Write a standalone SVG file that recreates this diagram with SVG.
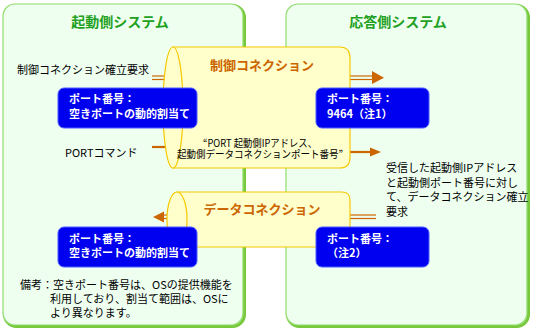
<svg xmlns="http://www.w3.org/2000/svg" width="535" height="331" viewBox="0 0 535 331">
<defs>
<style>
text{font-family:"Noto Sans CJK JP","Noto Sans",sans-serif;}
.panel{fill:#eefff0;stroke:#8fdc6c;stroke-width:1.2;}
.shadow{fill:none;stroke:#77c83a;stroke-width:3;}
.ttl{font-size:14px;font-weight:bold;fill:#22a022;text-anchor:middle;}
.cyl{fill:#ffffcc;stroke:#f5c800;stroke-width:1.2;}
.ctl{font-size:13px;font-weight:bold;fill:#cc6600;text-anchor:middle;}
.box{fill:#0000f0;stroke:#4a5cff;stroke-width:1;}
.bt{font-size:11px;font-weight:bold;fill:#ffffff;}
.lbl{font-size:11px;fill:#000000;}
.ln{stroke:#cc6600;stroke-width:1.2;fill:none;}
.thk{stroke:#cc6600;stroke-width:2.2;fill:none;}
.head{fill:#cc6600;}
</style>
</defs>
<rect width="535" height="331" fill="#ffffff"/>
<g id="initiator">
<rect class="shadow" x="4.5" y="5.5" width="240" height="321" rx="12"/>
<rect class="panel" x="3" y="4" width="240" height="321" rx="12"/>
<text class="ttl" x="120" y="27">起動側システム</text>
</g>
<g id="responder">
<rect class="shadow" x="287.5" y="5.5" width="241" height="321" rx="12"/>
<rect class="panel" x="286" y="4" width="241" height="321" rx="12"/>
<text class="ttl" x="398" y="27">応答側システム</text>
</g>
<g id="connectors">
<line class="ln" x1="152" y1="76" x2="175" y2="76"/>
<line class="ln" x1="152" y1="79.5" x2="175" y2="79.5"/>
<line class="ln" x1="345" y1="76" x2="374" y2="76"/>
<line class="ln" x1="345" y1="79.5" x2="374" y2="79.5"/>
<polygon class="head" points="372,71 384,77.7 372,84"/>
<line class="thk" x1="152" y1="147" x2="175" y2="147"/>
<line class="thk" x1="345" y1="152" x2="372" y2="152"/>
<polygon class="head" points="370,147.5 381,152 370,156.5"/>
<line class="ln" x1="345" y1="215" x2="376" y2="215"/>
<line class="ln" x1="345" y1="218.5" x2="376" y2="218.5"/>
<line class="ln" x1="161" y1="215" x2="183" y2="215"/>
<line class="ln" x1="161" y1="218.5" x2="183" y2="218.5"/>
<polygon class="head" points="164,211.5 153,217 164,222.5"/>
</g>
<g id="control-connection">
<path class="cyl" d="M173,47 H340 Q350,47 350,58 V157 Q350,168 340,168 H173 Z"/>
<ellipse class="cyl" cx="173" cy="107.5" rx="10" ry="60.5"/>
<text class="ctl" x="262" y="70">制御コネクション</text>
<text class="lbl" style="font-size:10.5px"><tspan x="203" y="146.5" textLength="114" lengthAdjust="spacingAndGlyphs">“PORT 起動側IPアドレス、</tspan><tspan x="177" y="158" textLength="166" lengthAdjust="spacingAndGlyphs">起動側データコネクションポート番号”</tspan></text>
</g>
<g id="data-connection">
<path class="cyl" d="M177,192 H342 Q350,192 350,200 V239 Q350,247 342,247 H177 Z"/>
<ellipse class="cyl" cx="177" cy="219.5" rx="10" ry="27.5"/>
<text class="ctl" x="262" y="214">データコネクション</text>
</g>
<g id="port-init-ctrl">
<rect class="box" x="58" y="88" width="139" height="40" rx="6"/>
<text class="bt"><tspan x="69" y="103">ポート番号：</tspan><tspan x="69" y="118">空きポートの動的割当て</tspan></text>
</g>
<g id="port-resp-ctrl">
<rect class="box" x="316" y="88" width="113" height="40" rx="6"/>
<text class="bt"><tspan x="327" y="103">ポート番号：</tspan><tspan x="327" y="118">9464（注1）</tspan></text>
</g>
<g id="port-init-data">
<rect class="box" x="58" y="227" width="139" height="40" rx="6"/>
<text class="bt"><tspan x="69" y="242.5">ポート番号：</tspan><tspan x="69" y="257">空きポートの動的割当て</tspan></text>
</g>
<g id="port-resp-data">
<rect class="box" x="316" y="227" width="113" height="40" rx="6"/>
<text class="bt"><tspan x="327" y="242.5">ポート番号：</tspan><tspan x="327" y="257">（注2）</tspan></text>
</g>
<g id="labels">
<text class="lbl" x="17" y="74">制御コネクション確立要求</text>
<text class="lbl" x="65" y="157">PORTコマンド</text>
<text class="lbl"><tspan x="386" y="172">受信した起動側IPアドレス</tspan><tspan x="386" y="186.5">と起動側ポート番号に対し</tspan><tspan x="386" y="201">て、データコネクション確立</tspan><tspan x="386" y="215.5">要求</tspan></text>
<text class="lbl"><tspan x="20" y="289">備考：空きポート番号は、OSの提供機能を</tspan><tspan x="50" y="303">利用しており、割当て範囲は、OSに</tspan><tspan x="50" y="317">より異なります。</tspan></text>
</g>
</svg>
